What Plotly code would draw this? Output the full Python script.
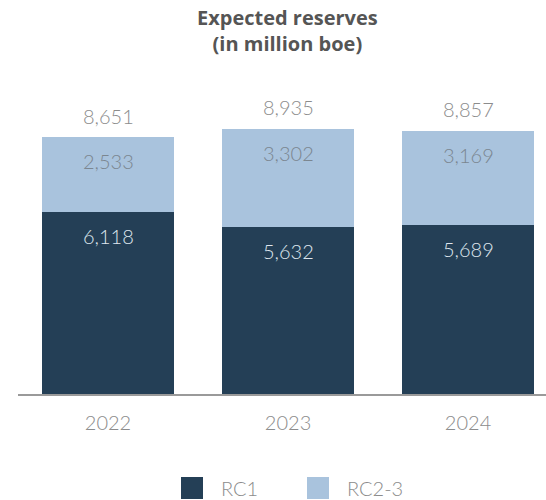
import plotly.graph_objects as go

# Expected reserves by year, million boe
years = ["2022", "2023", "2024"]
rc1 = [6118, 5632, 5689]
rc23 = [2533, 3302, 3169]
totals = [8651, 8935, 8857]
series_names = ["RC1", "RC2-3"]

DARK = "#243f56"
LIGHT = "#a9c3dd"
NUM_FONT = "Lato Light, Lato"

W, H = 546, 500
ML, MR, MT, MB = 18, 0, 97, 106
plot_w = W - ML - MR
plot_h = H - MT - MB

fig = go.Figure()
fig.add_trace(go.Bar(x=years, y=rc1, name=series_names[0], marker_color=DARK,
                     marker_line_width=0, showlegend=False, hoverinfo="skip"))
fig.add_trace(go.Bar(x=years, y=rc23, name=series_names[1], marker_color=LIGHT,
                     marker_line_width=0, showlegend=False, hoverinfo="skip"))

annotations = []
for i in range(len(years)):
    # RC1 value near top of its segment
    annotations.append(dict(xref="x", yref="y", x=i, y=rc1[i], text=f"{rc1[i]:,}",
                            showarrow=False, yanchor="middle", yshift=-24,
                            font=dict(family=NUM_FONT, size=20, color="#dfe6ee", weight=300)))
    # RC2-3 value near top of its segment
    annotations.append(dict(xref="x", yref="y", x=i, y=rc1[i] + rc23[i], text=f"{rc23[i]:,}",
                            showarrow=False, yanchor="middle", yshift=-24,
                            font=dict(family=NUM_FONT, size=20, color="#7b8690", weight=300)))
    # total above the bar
    annotations.append(dict(xref="x", yref="y", x=i, y=totals[i], text=f"{totals[i]:,}",
                            showarrow=False, yanchor="middle", yshift=21.5,
                            font=dict(family=NUM_FONT, size=20, color="#8c8c8c", weight=300)))

# custom legend with large square swatches
def px_x(p):
    return (p - ML) / plot_w

def px_y(q):
    return (H - MB - q) / plot_h

shapes = []
legend_items = [(series_names[0], DARK, 181), (series_names[1], LIGHT, 307)]
for name, col, left in legend_items:
    shapes.append(dict(type="rect", xref="paper", yref="paper",
                       x0=px_x(left), x1=px_x(left + 22), y0=px_y(499), y1=px_y(477),
                       fillcolor=col, line_width=0))
    annotations.append(dict(xref="paper", yref="paper", x=px_x(left + 38), y=px_y(488),
                            xanchor="left", yanchor="middle", text=name, showarrow=False,
                            font=dict(family=NUM_FONT, size=20, color="#8c8c8c", weight=300)))

# two-line title as a paper annotation for exact placement
annotations.append(dict(xref="paper", yref="paper", x=px_x(287), y=px_y(31),
                        xanchor="center", yanchor="middle", showarrow=False,
                        text="<b>Expected reserves</b><br><b>(in million boe)</b>",
                        font=dict(family="Open Sans", size=20, color="#555555")))

fig.update_layout(
    width=W, height=H,
    margin=dict(l=ML, r=MR, t=MT, b=MB, pad=0),
    barmode="stack",
    bargap=0.267,
    plot_bgcolor="white",
    paper_bgcolor="white",
    showlegend=False,
    xaxis=dict(type="category", range=[-0.5, 2.433], showline=True, linecolor="#9a9a9a",
               linewidth=2, ticks="", ticklabelstandoff=10,
               tickfont=dict(family=NUM_FONT, size=20, color="#8c8c8c", weight=300),
               showgrid=False, zeroline=False, fixedrange=True),
    yaxis=dict(range=[0, 10000], visible=False, showgrid=False, zeroline=False,
               fixedrange=True),
    annotations=annotations,
    shapes=shapes,
)

fig.write_html("out.html")
